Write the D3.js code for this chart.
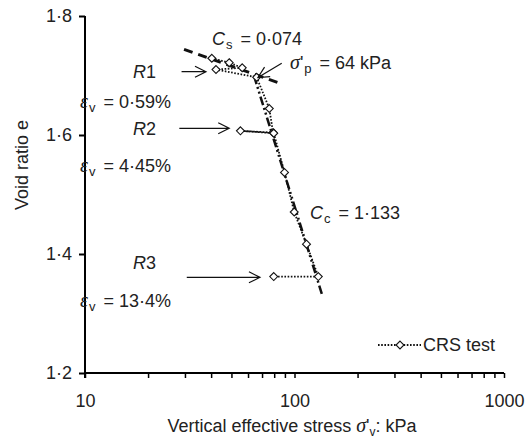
<!DOCTYPE html>
<html>
<head>
<meta charset="utf-8">
<script src="https://cdn.jsdelivr.net/npm/d3@7"></script>
<style>
  body { margin: 0; background: #fff; }
  text { font-family: "Liberation Sans", Arial, sans-serif; font-size: 18px; fill: #222; }
  .gr { font-family: "Liberation Serif", "Times New Roman", serif; font-style: italic; font-size: 20px; }
</style>
</head>
<body>
<svg id="chart" width="528" height="439"></svg>
<script>
// CRS test data: vertical effective stress (kPa) and void ratio
var stress    = [40.3, 48.8, 56.3, 42.2, 66.0, 75.8, 79.0, 55.2, 79.6, 89.6, 99.7, 114.1, 129.9, 79.6];
var voidRatio = [1.729, 1.7215, 1.713, 1.710, 1.697, 1.6445, 1.604, 1.607, 1.603, 1.537, 1.4706, 1.4165, 1.362, 1.362];

// fitted lines
var csLine = [[29.7, 1.744], [86.9, 1.686]];
var ccLine = [[64, 1.700], [135, 1.333]];

// relaxation arrows [from stress, to stress, void ratio]
var relaxArrows = [[28.9, 37.8, 1.7064], [28.2, 48.8, 1.6113], [30.6, 68.4, 1.3608]];
var yTicks = [1.2, 1.4, 1.6, 1.8];
var xTicks = [10, 100, 1000];

var svg = d3.select("#chart");
var x = d3.scaleLog().domain([10, 1000]).range([85, 504]);
var y = d3.scaleLinear().domain([1.2, 1.8]).range([373, 16]);
var fmt = function (d) { return d.toFixed(1).replace(".", "\u00b7"); };

// axes
svg.append("g").attr("transform", "translate(0,373)")
  .call(d3.axisBottom(x).tickValues(d3.range(1, 10).map(function (i) { return i * 10; })
      .concat(d3.range(1, 11).map(function (i) { return i * 100; })))
    .tickSize(5).tickFormat(function (d) { return xTicks.indexOf(d) >= 0 ? d : ""; }))
  .call(function (g) {
    g.select(".domain").attr("d", "M85,0H504").attr("stroke-width", 2);
    g.selectAll(".tick line").attr("stroke-width", 1.5);
    g.selectAll(".tick text").attr("dy", "1.45em").style("font-size", "18px");
  });

svg.append("g").attr("transform", "translate(85,0)")
  .call(d3.axisLeft(y).tickValues(yTicks).tickSize(6).tickFormat(fmt))
  .call(function (g) {
    g.select(".domain").attr("d", "M0,16V378").attr("stroke-width", 2);
    g.selectAll(".tick line").attr("stroke-width", 2);
    g.selectAll(".tick text").attr("x", -13).style("font-size", "18px");
  });

// axis titles
svg.append("text").attr("x", 292).attr("y", 432).attr("text-anchor", "middle")
  .html("Vertical effective stress <tspan class='gr'>σ</tspan>'<tspan font-size='12px' dy='4'>v</tspan><tspan dy='-4'>: kPa</tspan>");
svg.append("text").attr("transform", "translate(28,165) rotate(-90)").attr("text-anchor", "middle")
  .text("Void ratio e");

// fitted lines
var line = d3.line().x(function (d) { return x(d[0]); }).y(function (d) { return y(d[1]); });
svg.append("path").attr("d", line(csLine)).attr("fill", "none").attr("stroke", "#111")
  .attr("stroke-width", 3).attr("stroke-dasharray", "9,6");
svg.append("path").attr("d", line(ccLine)).attr("fill", "none").attr("stroke", "#111")
  .attr("stroke-width", 2.5).attr("stroke-dasharray", "9,3,2,3,2,3");

// CRS series
var pts = stress.map(function (s, i) { return [s, voidRatio[i]]; });
svg.append("path").attr("d", line(pts)).attr("fill", "none").attr("stroke", "#111")
  .attr("stroke-width", 1.8).attr("stroke-dasharray", "1.6,1.6");
var diamond = d3.symbol().type(d3.symbolDiamond2).size(40);
svg.selectAll(".pt").data(pts).enter().append("path")
  .attr("transform", function (d) { return "translate(" + x(d[0]) + "," + y(d[1]) + ")"; })
  .attr("d", diamond).attr("fill", "#fff").attr("stroke", "#111").attr("stroke-width", 1.1);

// arrows
function arrow(x0, y0, x1, y1, len, half) {
  var a = Math.atan2(y1 - y0, x1 - x0);
  var p = d3.path();
  p.moveTo(x0, y0); p.lineTo(x1, y1);
  p.moveTo(x1 - len * Math.cos(a) + half * Math.sin(a), y1 - len * Math.sin(a) - half * Math.cos(a));
  p.lineTo(x1, y1);
  p.lineTo(x1 - len * Math.cos(a) - half * Math.sin(a), y1 - len * Math.sin(a) + half * Math.cos(a));
  svg.append("path").attr("d", p.toString()).attr("fill", "none").attr("stroke", "#111").attr("stroke-width", 1.2);
}
relaxArrows.forEach(function (r) { arrow(x(r[0]), y(r[2]), x(r[1]), y(r[2]), 11, 5.5); });
arrow(x(86.9), y(1.7205), x(66.9), y(1.6966), 11, 5.5);

// annotations
function label(px, py, html) { svg.append("text").attr("x", px).attr("y", py).html(html); }
var sub = function (s) { return "<tspan font-size='13px' dx='1' dy='4'>" + s + "</tspan><tspan dx='3' dy='-4'>"; };
label(212, 45, "<tspan font-style='italic'>C</tspan>" + sub("s") + " = 0·074</tspan>");
label(290, 69, "<tspan class='gr'>σ</tspan>'" + sub("p") + " = 64 kPa</tspan>");
label(310, 219, "<tspan font-style='italic'>C</tspan>" + sub("c") + " = 1·133</tspan>");
label(133, 78, "<tspan font-style='italic'>R</tspan>1");
label(133, 135, "<tspan font-style='italic'>R</tspan>2");
label(133, 269, "<tspan font-style='italic'>R</tspan>3");
label(80, 108, "<tspan class='gr'>ε</tspan>" + sub("v") + " = 0·59%</tspan>");
label(80, 172, "<tspan class='gr'>ε</tspan>" + sub("v") + " = 4·45%</tspan>");
label(80, 307, "<tspan class='gr'>ε</tspan>" + sub("v") + " = 13·4%</tspan>");

// legend
svg.append("line").attr("x1", 378).attr("x2", 421).attr("y1", 345).attr("y2", 345)
  .attr("stroke", "#111").attr("stroke-width", 1.8).attr("stroke-dasharray", "1.6,1.6");
svg.append("path").attr("transform", "translate(400,345)").attr("d", diamond)
  .attr("fill", "#fff").attr("stroke", "#111").attr("stroke-width", 1.1);
svg.append("text").attr("x", 423).attr("y", 351).text("CRS test");
</script>
</body>
</html>
